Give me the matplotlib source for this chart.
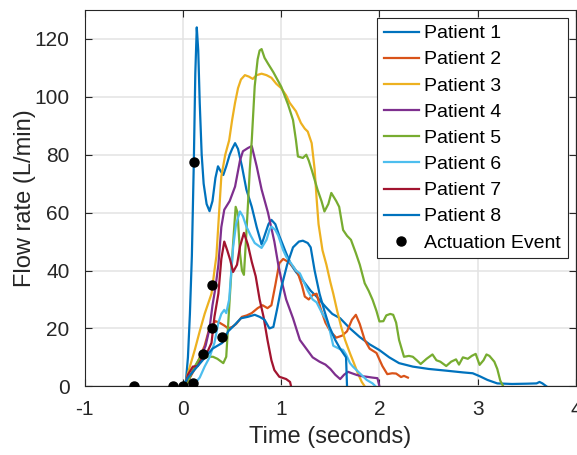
import numpy as np
import matplotlib
matplotlib.use("Agg")
import matplotlib.pyplot as plt

plt.rcParams['font.family'] = ['Liberation Sans', 'DejaVu Sans']
plt.rcParams['axes.unicode_minus'] = False

# Flow traces (time in s, flow in L/min)
p1_t = [0.0, 0.03, 0.05, 0.07, 0.09, 0.11, 0.125, 0.14, 0.155, 0.17, 0.19, 0.21, 0.24, 0.27, 0.3, 0.33,
        0.356, 0.38, 0.41, 0.44, 0.475, 0.5, 0.53, 0.56, 0.6, 0.645, 0.7, 0.75, 0.8, 0.83, 0.87, 0.9,
        0.94, 0.98, 1.05, 1.1, 1.15, 1.2, 1.3, 1.36, 1.45, 1.52, 1.6, 1.7, 1.8, 1.9, 2.0, 2.1, 2.2,
        2.34, 2.5, 2.68, 2.85, 2.95, 3.02, 3.1, 3.2, 3.35, 3.5, 3.6, 3.63, 3.66, 3.7]
p1_f = [0, 2, 10, 25, 45, 77.6, 108, 124, 116, 98, 80, 70, 63, 60.5, 64, 72,
        76, 74.5, 73, 76, 80, 82, 84, 82, 76, 68, 62, 55, 49, 52, 56, 57.5,
        56, 52, 46, 42, 39.5, 37.5, 33, 31, 27.5, 25, 23.5, 20, 17, 14.5, 12.5, 10, 8,
        6.8, 6, 5.4, 4.8, 4.5, 3.5, 2.2, 1, 0.8, 0.9, 1.0, 1.5, 1.0, 0]

p2_t = [0.03, 0.07, 0.12, 0.17, 0.22, 0.26, 0.3, 0.33, 0.37, 0.42, 0.46, 0.5, 0.54, 0.6, 0.65, 0.7,
        0.76, 0.81, 0.86, 0.9, 0.94, 0.98, 1.02, 1.07, 1.12, 1.17, 1.21, 1.24, 1.28, 1.32, 1.36, 1.4,
        1.45, 1.5, 1.56, 1.62, 1.67, 1.72, 1.76, 1.8, 1.85, 1.9, 1.97, 2.03, 2.08, 2.13, 2.17, 2.22,
        2.25, 2.29]
p2_f = [0, 3, 6, 10, 14, 19, 21, 22.5, 22, 21, 20, 20.5, 21.5, 24, 24.5, 25.3,
        27, 28, 27, 28, 35, 42.5, 44, 43, 41.4, 39, 35, 31, 30, 31.5, 32, 27,
        22, 19, 16.8, 17.5, 19, 23, 24.7, 21.5, 16, 13, 11.5, 7, 4.2, 4.5, 4.4, 3.2,
        3.6, 3.0]

p3_t = [0.02, 0.05, 0.12, 0.17, 0.22, 0.29, 0.32, 0.34, 0.39, 0.43, 0.47, 0.5, 0.53, 0.56, 0.59,
        0.63, 0.67, 0.71, 0.75, 0.8, 0.85, 0.9, 0.95, 1.0, 1.05, 1.085, 1.15, 1.2, 1.24, 1.27, 1.31,
        1.34, 1.36, 1.38, 1.42, 1.46, 1.5, 1.53, 1.57, 1.61, 1.65, 1.7, 1.74, 1.78, 1.82, 1.85]
p3_f = [0, 4.5, 12.6, 19, 25, 32, 40, 45, 72.5, 80, 85, 92, 98, 103, 106,
        107.5, 107, 106.2, 107.5, 108, 107.5, 106.6, 104.5, 103, 100.5, 98, 95, 91, 89, 88, 84,
        75, 65, 56, 47, 42, 36, 32, 26, 20.6, 16, 11.4, 8, 4.5, 1.5, 0]

p4_t = [0.03, 0.08, 0.13, 0.18, 0.23, 0.27, 0.3, 0.33, 0.36, 0.39, 0.42, 0.475, 0.53, 0.58, 0.61,
        0.66, 0.7, 0.75, 0.8, 0.865, 0.93, 0.97, 1.0, 1.05, 1.12, 1.19, 1.255, 1.32, 1.39, 1.45,
        1.5, 1.55, 1.6, 1.64, 1.68, 1.72, 1.77, 1.82, 1.87, 1.93, 1.98, 2.0]
p4_f = [0, 4, 7, 10, 14, 20, 28, 34, 42, 55, 61, 64, 69, 78, 81.2,
        82.3, 83, 76, 68, 60, 50, 42, 37, 30, 23.5, 16, 13, 10, 8.5, 7.5,
        6, 4, 2.5, 4, 5, 4.5, 3.9, 3.5, 3.3, 3, 2.8, 0]

p5_t = [0.03, 0.08, 0.13, 0.17, 0.22, 0.26, 0.305, 0.35, 0.41, 0.44, 0.475, 0.51, 0.536, 0.555,
        0.58, 0.6, 0.62, 0.64, 0.66, 0.68, 0.7, 0.73, 0.76, 0.78, 0.8, 0.83, 0.865, 0.92, 0.96, 1.0,
        1.07, 1.12, 1.15, 1.17, 1.22, 1.255, 1.28, 1.31, 1.37, 1.41, 1.44, 1.48, 1.51, 1.56, 1.59,
        1.63, 1.67, 1.71, 1.76, 1.8, 1.85, 1.89, 1.93, 1.97, 2.0, 2.04, 2.07, 2.11, 2.14, 2.17, 2.2,
        2.25, 2.3, 2.34, 2.38, 2.42, 2.48, 2.54, 2.58, 2.62, 2.68, 2.73, 2.78, 2.81, 2.85, 2.9, 2.94,
        2.98, 3.02, 3.06, 3.09, 3.12, 3.17, 3.2, 3.23, 3.26]
p5_f = [0, 4, 7.5, 9.7, 10, 10.2, 10.2, 9.5, 8, 10.2, 30, 49.5, 62, 60,
        46, 40, 38.5, 50, 62, 75, 85, 103.7, 113, 116, 116.5, 113.5, 111.5, 108.5, 106, 103.5,
        97.3, 92, 85, 79.4, 78.9, 80, 78, 74.8, 67.9, 64, 60.4, 63, 66.8, 64, 62,
        54, 52, 50.6, 46, 42, 35.6, 33, 29.9, 26, 22.4, 22.5, 24.5, 25, 24.7, 22, 16,
        10.2, 10.5, 10.2, 9, 7.7, 9.5, 11, 9, 8.5, 7, 8.5, 9.3, 7.5, 10, 9.5, 10.5,
        11.2, 7.4, 9, 11, 10.5, 8.5, 6, 2, 0]

p6_t = [0.08, 0.12, 0.17, 0.22, 0.27, 0.32, 0.36, 0.39, 0.42, 0.44, 0.47, 0.51, 0.54, 0.58, 0.61,
        0.645, 0.69, 0.73, 0.8, 0.85, 0.88, 0.9, 0.94, 0.97, 1.02, 1.05, 1.1, 1.15, 1.19, 1.22, 1.27,
        1.32, 1.36, 1.42, 1.46, 1.49, 1.53, 1.56, 1.6, 1.63, 1.66, 1.7, 1.73, 1.8, 1.87, 1.93, 1.96]
p6_f = [0, 1, 3, 6.8, 10, 15, 22, 25, 26.4, 25.3, 30, 48, 56, 60.4, 58.7,
        55.2, 52, 49.5, 47.8, 50.6, 54, 55.2, 54, 52, 47, 44.8, 42.5, 40, 39, 36.8, 33,
        30, 29, 25, 23, 20, 14, 13.5, 12.8, 12.6, 11, 8, 6.8, 4.5, 2.2, 1, 0]

p7_t = [0.02, 0.05, 0.1, 0.15, 0.2, 0.25, 0.29, 0.32, 0.36, 0.39, 0.42, 0.45, 0.48, 0.51, 0.55,
        0.58, 0.62, 0.66, 0.7, 0.74, 0.78, 0.82, 0.86, 0.9, 0.93, 0.98, 1.05, 1.09, 1.1]
p7_f = [0, 4, 6.8, 7, 10, 12, 15, 24, 32, 44, 50, 47, 43.7, 39.5, 42,
        48.3, 53, 49, 43, 38, 30, 24, 16, 9, 5.6, 3.3, 2.5, 1.5, 0]

p8_t = [0.0, 0.05, 0.1, 0.15, 0.2, 0.25, 0.3, 0.35, 0.4, 0.46, 0.52, 0.59, 0.66, 0.73, 0.78, 0.83,
        0.88, 0.92, 0.96, 1.0, 1.06, 1.12, 1.18, 1.22, 1.27, 1.3, 1.34, 1.39, 1.44, 1.49, 1.55, 1.6,
        1.66, 1.67]
p8_f = [0, 3, 5, 7, 9, 11, 13, 14, 15, 19, 21, 23.5, 24, 24.7, 24, 23,
        20, 20.5, 27, 34, 42, 48, 50, 50.3, 49.5, 48, 40, 32, 26, 20.6, 16, 13,
        10, 0]

# actuation events
act_t = [-0.5, -0.1, 0.0, 0.1, 0.11, 0.2, 0.3, 0.3, 0.4]
act_f = [0, 0, 0, 1, 77.6, 11, 20, 35, 17]

labels = ['Patient 1', 'Patient 2', 'Patient 3', 'Patient 4',
          'Patient 5', 'Patient 6', 'Patient 7', 'Patient 8']
colors = ['#0072BD', '#D95319', '#EDB120', '#7E2F8E',
          '#77AC30', '#4DBEEE', '#A2142F', '#0072BD']
traces = [(p1_t, p1_f), (p2_t, p2_f), (p3_t, p3_f), (p4_t, p4_f),
          (p5_t, p5_f), (p6_t, p6_f), (p7_t, p7_f), (p8_t, p8_f)]

fig = plt.figure(figsize=(5.77, 4.55), dpi=100)
ax = fig.add_axes([0.147, 0.151, 0.851, 0.827])

for (t, f), lab, c in zip(traces, labels, colors):
    ax.plot(t, f, color=c, lw=1.6, label=lab)
ax.plot(act_t, act_f, 'o', color='black', markersize=6.5, label='Actuation Event', zorder=5)

ax.set_xlim(-1, 4)
ax.set_ylim(0, 130)
ax.set_xticks(np.arange(-1, 5, 1))
ax.set_yticks(np.arange(0, 121, 20))
ax.grid(True, color='#e3e3e3', lw=1.1)
ax.set_axisbelow(True)
ax.tick_params(direction='in', top=True, right=True, labelsize=15, colors='#262626', length=5)
ax.tick_params(axis='x', pad=10)
ax.tick_params(axis='y', pad=11)
for s in ax.spines.values():
    s.set_color('#262626')
    s.set_linewidth(0.8)

ax.set_xlabel('Time (seconds)', fontsize=17, color='#262626', labelpad=5)
ax.set_ylabel('Flow rate (L/min)', fontsize=17, color='#262626', labelpad=-1)

leg = ax.legend(loc='upper right', bbox_to_anchor=(0.984, 0.979), borderaxespad=0,
                fontsize=14, fancybox=False, edgecolor='#262626', framealpha=1,
                handlelength=1.8, handletextpad=0.3, labelspacing=0.44, borderpad=0.35)
leg.get_frame().set_linewidth(0.8)

fig.savefig('out.png', dpi=100)
